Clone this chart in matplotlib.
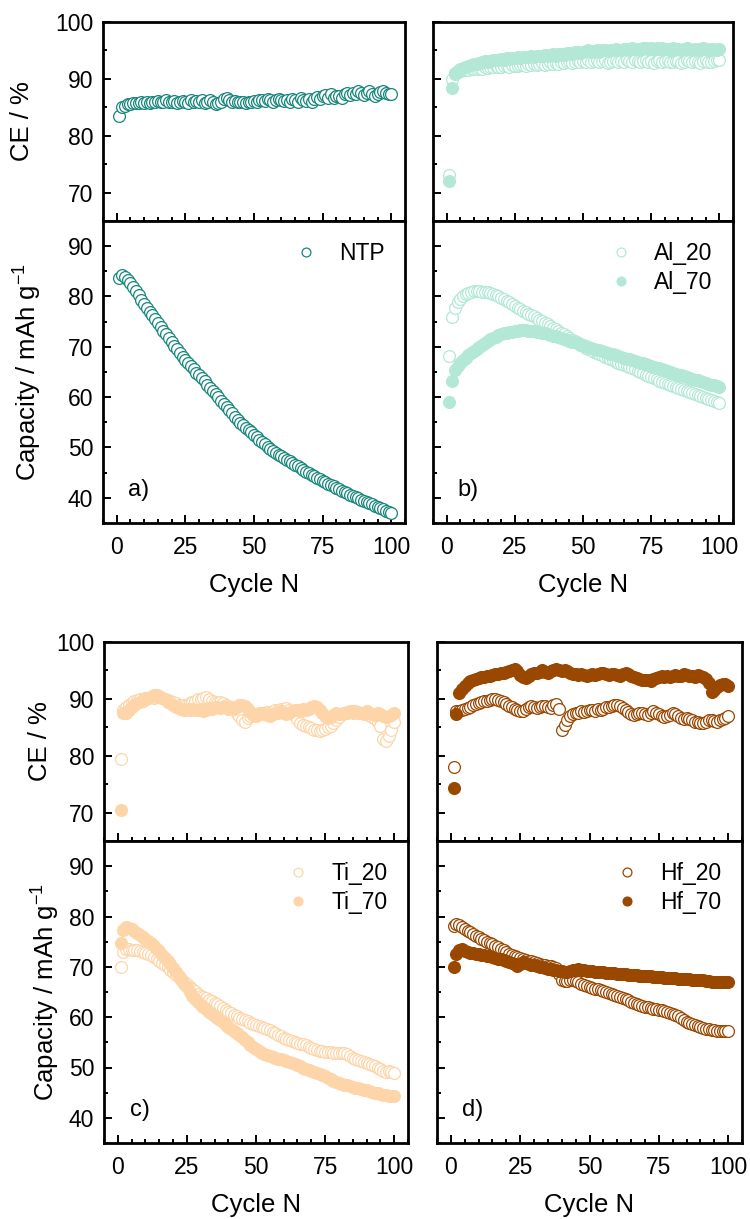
import numpy as np
import matplotlib.pyplot as plt
from matplotlib.ticker import MultipleLocator

plt.rcParams['font.family'] = ['Liberation Sans', 'DejaVu Sans']
plt.rcParams['mathtext.fontset'] = 'custom'
plt.rcParams['mathtext.rm'] = 'Liberation Sans'
plt.rcParams['mathtext.it'] = 'Liberation Sans:italic'

cycles = np.arange(1, 101)

# ---- a) NTP ----
ntp_ce = [
    83.5, 85.0, 85.3, 85.5, 85.6, 85.7, 85.8, 85.7, 85.9, 85.8,
    85.9, 85.8, 86.0, 85.9, 86.1, 85.9, 86.0, 86.2, 85.9, 86.0,
    86.1, 85.8, 86.0, 86.1, 85.9, 85.8, 86.2, 86.0, 86.1, 85.9,
    86.3, 85.8, 86.0, 86.2, 85.9, 85.5, 85.7, 86.0, 86.5, 86.6,
    86.2, 86.0, 86.1, 85.9, 85.9, 86.0, 85.8, 85.9, 86.0, 86.1,
    86.0, 86.2, 86.3, 86.1, 86.4, 86.2, 86.0, 86.3, 86.5, 86.2,
    86.1, 86.3, 86.0, 86.4, 86.2, 86.0, 86.6, 86.3, 86.1, 86.5,
    86.0, 86.4, 86.8, 86.5, 86.9, 87.1, 86.7, 87.3, 86.6, 86.9,
    87.0, 86.7, 87.3, 87.5, 87.1, 87.6, 87.4, 87.8, 87.5, 87.2,
    87.6, 87.9, 87.4, 87.0, 87.3, 87.7, 87.9, 87.5, 87.4, 87.3]
ntp_cap = [
    83.7, 84.2, 83.9, 83.3, 82.6, 81.8, 81.0, 80.2, 79.4, 78.6,
    77.8, 77.0, 76.3, 75.5, 74.8, 74.0, 73.2, 72.5, 71.7, 71.0,
    70.2, 69.5, 68.7, 68.0, 67.3, 66.7, 66.1, 65.5, 64.9, 64.4,
    63.8, 63.2, 62.5, 61.9, 61.2, 60.6, 60.0, 59.3, 58.7, 58.1,
    57.4, 56.8, 56.1, 55.5, 54.9, 54.4, 53.9, 53.4, 53.0, 52.5,
    52.0, 51.5, 51.0, 50.6, 50.1, 49.7, 49.4, 49.0, 48.6, 48.3,
    47.9, 47.6, 47.3, 46.9, 46.6, 46.3, 45.9, 45.6, 45.2, 44.9,
    44.6, 44.3, 44.0, 43.7, 43.4, 43.1, 42.8, 42.6, 42.3, 42.0,
    41.7, 41.4, 41.2, 40.9, 40.6, 40.4, 40.1, 39.9, 39.6, 39.4,
    39.1, 38.9, 38.7, 38.4, 38.2, 37.9, 37.7, 37.4, 37.2, 36.9]

# ---- b) Al ----
al20_ce = [
    73.1, 90.0, 90.9, 91.2, 91.4, 91.5, 91.6, 91.5, 91.7, 91.8,
    91.7, 91.9, 91.8, 92.0, 91.9, 92.1, 92.0, 92.2, 92.1, 92.0,
    92.3, 92.2, 92.1, 92.4, 92.3, 92.2, 92.5, 92.4, 92.3, 92.6,
    92.4, 92.7, 92.5, 92.6, 92.8, 92.5, 92.7, 92.9, 92.6, 92.8,
    92.7, 93.0, 92.8, 92.9, 93.1, 92.8, 93.0, 93.2, 92.9, 93.1,
    93.0, 93.3, 92.9, 93.2, 93.4, 93.0, 93.1, 93.3, 92.8, 93.0,
    93.2, 93.4, 93.0, 93.1, 92.9, 93.3, 93.2, 93.0, 93.4, 93.1,
    92.9, 93.2, 93.3, 93.0, 93.1, 92.8, 93.2, 93.4, 93.0, 93.1,
    93.3, 92.9, 93.0, 93.2, 93.1, 92.8, 93.0, 93.3, 93.1, 92.9,
    93.2, 93.0, 92.8, 93.1, 93.3, 93.0, 92.9, 93.1, 93.4, 93.3]
al70_ce = [
    72.1, 88.4, 91.0, 91.4, 91.7, 91.9, 92.1, 92.3, 92.4, 92.6,
    92.7, 92.8, 93.0, 93.1, 93.0, 93.2, 93.3, 93.4, 93.3, 93.5,
    93.4, 93.6, 93.5, 93.7, 93.6, 93.8, 93.7, 93.9, 93.8, 93.9,
    94.0, 93.9, 94.1, 94.0, 94.1, 94.2, 94.0, 94.2, 94.3, 94.1,
    94.3, 94.4, 94.2, 94.5, 94.6, 94.4, 94.7, 94.8, 94.6, 94.8,
    94.9, 95.1, 94.8, 94.9, 95.0, 94.8, 95.0, 95.1, 94.9, 95.1,
    95.0, 95.2, 95.1, 95.0, 95.2, 95.3, 95.1, 95.4, 95.2, 95.3,
    95.2, 95.4, 95.5, 95.3, 95.4, 95.2, 95.5, 95.3, 95.4, 95.2,
    95.3, 95.1, 95.4, 95.2, 95.3, 95.1, 95.2, 95.4, 95.3, 95.0,
    95.2, 95.1, 95.3, 95.4, 95.2, 95.1, 95.3, 95.2, 95.1, 95.2]
al20_cap = [
    68.1, 75.9, 77.8, 78.9, 79.6, 80.1, 80.5, 80.7, 80.9, 81.0,
    81.0, 81.0, 80.9, 80.9, 80.8, 80.6, 80.5, 80.3, 80.1, 79.8,
    79.5, 79.2, 78.9, 78.5, 78.2, 77.8, 77.5, 77.2, 76.9, 76.6,
    76.4, 76.1, 75.8, 75.4, 75.1, 74.8, 74.5, 74.1, 73.8, 73.5,
    73.2, 72.8, 72.5, 72.1, 71.8, 71.4, 71.1, 70.8, 70.4, 70.1,
    69.8, 69.5, 69.3, 69.0, 68.8, 68.5, 68.3, 68.0, 67.8, 67.5,
    67.3, 67.0, 66.8, 66.6, 66.3, 66.1, 65.9, 65.7, 65.5, 65.2,
    65.0, 64.8, 64.5, 64.3, 64.0, 63.8, 63.6, 63.3, 63.1, 62.9,
    62.7, 62.5, 62.3, 62.0, 61.8, 61.6, 61.4, 61.2, 61.0, 60.8,
    60.6, 60.4, 60.2, 60.0, 59.8, 59.6, 59.4, 59.2, 59.0, 58.8]
al70_cap = [
    59.1, 63.3, 65.3, 66.1, 66.8, 67.3, 67.8, 68.3, 68.7, 69.1,
    69.5, 69.9, 70.3, 70.7, 71.1, 71.5, 71.8, 72.0, 72.3, 72.5,
    72.7, 72.8, 72.9, 73.0, 73.1, 73.2, 73.3, 73.3, 73.3, 73.2,
    73.2, 73.1, 73.0, 72.9, 72.8, 72.7, 72.5, 72.4, 72.2, 72.1,
    71.9, 71.8, 71.6, 71.4, 71.2, 71.0, 70.9, 70.7, 70.5, 70.3,
    70.1, 69.9, 69.8, 69.6, 69.4, 69.3, 69.1, 68.9, 68.8, 68.6,
    68.5, 68.3, 68.1, 68.0, 67.8, 67.6, 67.5, 67.3, 67.1, 67.0,
    66.8, 66.7, 66.5, 66.3, 66.2, 66.0, 65.8, 65.7, 65.5, 65.3,
    65.2, 65.0, 64.9, 64.7, 64.5, 64.4, 64.2, 64.0, 63.9, 63.7,
    63.5, 63.4, 63.2, 63.0, 62.9, 62.7, 62.5, 62.4, 62.2, 62.0]

# ---- c) Ti ----
ti20_ce = [
    79.4, 88.0, 88.5, 89.0, 89.3, 89.6, 89.8, 89.9, 90.0, 90.1,
    90.2, 90.3, 90.2, 90.4, 90.3, 90.2, 90.0, 89.8, 89.6, 89.4,
    89.2, 89.0, 88.8, 88.9, 89.0, 89.2, 89.5, 89.7, 89.9, 90.0,
    90.2, 90.3, 90.0, 89.7, 89.5, 89.3, 89.4, 89.2, 89.0, 88.8,
    88.5, 88.2, 87.6, 86.9, 86.2, 85.9, 86.6, 87.0, 87.3, 87.2,
    87.5, 87.4, 87.6, 87.7, 87.6, 87.8, 88.0, 88.1, 88.3, 88.2,
    88.4, 88.0, 87.5, 87.0, 86.4, 85.8, 85.4, 85.2, 85.0, 84.8,
    84.6, 84.5, 84.4, 84.5, 84.7, 85.0, 85.3, 85.7, 86.2, 86.8,
    87.3, 87.6, 87.7, 87.8, 87.8, 87.7, 87.6, 87.5, 87.3, 87.6,
    87.2, 86.8, 86.4, 86.0, 85.3, 83.0, 82.6, 83.4, 84.5, 86.0]
ti70_ce = [
    70.4, 87.6, 87.5, 88.0, 88.5, 88.9, 89.2, 89.5, 89.7, 89.9,
    90.1, 90.3, 90.6, 90.7, 90.5, 90.2, 89.9, 89.5, 89.2, 88.9,
    88.6, 88.4, 88.2, 88.0, 88.2, 88.1, 88.3, 88.1, 88.0, 88.2,
    87.9, 88.1, 88.4, 88.3, 88.6, 88.5, 88.4, 88.6, 88.5, 88.3,
    88.4, 88.2, 88.6, 88.9, 89.0, 88.7, 88.3, 87.7, 87.2, 87.0,
    87.3, 87.6, 87.5, 87.2, 87.0, 87.3, 87.5, 87.6, 87.8, 87.5,
    87.3, 87.6, 87.9, 88.1, 88.0, 87.8, 88.2, 88.0, 88.3, 88.5,
    88.7, 88.5, 88.0, 87.5, 86.9, 86.6, 86.8, 87.2, 87.5, 87.3,
    87.4, 87.6, 87.5, 87.7, 87.6, 87.8, 87.7, 87.5, 87.6, 87.8,
    87.5, 87.4, 87.2, 87.5, 87.3, 87.0, 86.8, 86.9, 87.2, 87.6]
ti20_cap = [
    69.9, 73.0, 73.5, 73.5, 73.4, 73.3, 73.3, 73.2, 73.0, 72.8,
    72.5, 72.3, 71.9, 71.6, 71.2, 70.8, 70.3, 69.9, 69.4, 68.9,
    68.4, 68.0, 67.5, 67.0, 66.5, 66.0, 65.6, 65.1, 64.7, 64.3,
    64.0, 63.8, 63.5, 63.2, 62.9, 62.6, 62.3, 61.9, 61.5, 61.1,
    60.8, 60.5, 60.2, 59.9, 59.6, 59.4, 59.2, 58.9, 58.7, 58.5,
    58.3, 58.0, 57.8, 57.6, 57.4, 57.1, 56.8, 56.5, 56.2, 55.9,
    55.7, 55.5, 55.3, 55.1, 54.9, 54.7, 54.6, 54.4, 54.1, 53.9,
    53.7, 53.5, 53.3, 53.2, 53.1, 53.0, 53.0, 52.9, 52.9, 52.9,
    52.8, 52.9, 52.7, 52.3, 51.9, 51.6, 51.4, 51.2, 51.0, 50.8,
    50.6, 50.4, 50.2, 50.0, 49.7, 49.4, 49.1, 49.3, 49.2, 49.0]
ti70_cap = [
    74.8, 77.4, 77.9, 77.8, 77.5, 77.1, 76.8, 76.4, 76.0, 75.6,
    75.1, 74.7, 74.2, 73.6, 73.1, 72.4, 71.8, 71.1, 70.5, 69.7,
    69.0, 68.2, 67.4, 66.6, 65.9, 65.0, 64.3, 63.6, 63.0, 62.5,
    62.0, 61.6, 61.1, 60.7, 60.2, 59.8, 59.4, 59.0, 58.5, 58.1,
    57.6, 57.2, 56.8, 56.4, 56.0, 55.5, 55.0, 54.5, 54.0, 53.6,
    53.2, 52.9, 52.6, 52.4, 52.2, 52.0, 51.9, 51.7, 51.6, 51.4,
    51.2, 51.0, 50.8, 50.6, 50.4, 50.2, 50.0, 49.8, 49.6, 49.4,
    49.2, 49.0, 48.8, 48.6, 48.3, 48.0, 47.7, 47.4, 47.1, 46.9,
    46.7, 46.6, 46.5, 46.3, 46.2, 46.0, 45.9, 45.7, 45.6, 45.5,
    45.3, 45.2, 45.0, 44.9, 44.8, 44.6, 44.5, 44.4, 44.3, 44.3]

# ---- d) Hf ----
hf20_ce = [
    78.0, 87.8, 87.9, 88.1, 88.2, 88.4, 88.6, 88.9, 89.1, 89.3,
    89.5, 89.6, 89.7, 89.8, 89.9, 89.9, 89.8, 89.6, 89.4, 89.1,
    88.8, 88.5, 88.2, 88.0, 87.8, 87.9, 88.2, 88.5, 88.7, 88.6,
    88.4, 88.6, 88.8, 88.7, 88.5, 88.4, 88.9, 89.1, 88.3, 84.6,
    85.4, 86.3, 86.9, 87.3, 87.5, 87.6, 87.8, 87.7, 87.9, 88.0,
    88.1, 87.9, 88.2, 88.1, 88.3, 88.5, 88.6, 88.8, 89.0, 88.9,
    88.7, 88.4, 88.0, 87.7, 87.4, 87.2, 87.4, 87.6, 87.5, 87.3,
    87.1, 87.5, 87.8, 87.6, 87.3, 87.0, 86.8, 86.9, 87.2, 87.5,
    87.4, 87.0, 86.7, 86.5, 86.6, 86.4, 86.2, 86.0, 85.9, 85.8,
    85.8, 86.0, 86.2, 86.3, 86.1, 86.0, 86.3, 86.5, 86.7, 86.9]
hf70_ce = [
    74.3, 87.4, 91.1, 91.8, 92.3, 92.8, 93.1, 93.3, 93.5, 93.6,
    93.8, 93.9, 94.0, 94.1, 94.2, 94.3, 94.4, 94.5, 94.6, 94.8,
    94.9, 95.1, 95.3, 94.9, 94.2, 93.8, 93.7, 94.0, 94.3, 94.5,
    94.6, 94.8, 95.0, 94.8, 94.6, 94.9, 95.1, 95.2, 95.0, 94.9,
    95.1, 94.9, 94.6, 94.4, 94.3, 94.2, 94.3, 94.2, 94.1, 94.2,
    94.3, 94.2, 94.4, 94.5, 94.6, 94.4, 94.2, 94.3, 94.4, 94.2,
    94.1, 94.3, 94.5, 94.4, 94.1, 93.9, 93.7, 93.5, 93.4, 93.3,
    93.4, 93.2, 93.5, 93.7, 93.8, 94.0, 93.9, 94.1, 93.9, 94.0,
    94.2, 94.0, 94.1, 94.3, 94.2, 94.0, 94.1, 93.9, 94.2, 94.0,
    93.8, 93.5, 92.8, 91.2, 91.6, 92.1, 92.4, 92.7, 92.6, 92.3]
hf20_cap = [
    78.2, 78.5, 78.3, 77.9, 77.6, 77.2, 76.9, 76.6, 76.2, 75.9,
    75.6, 75.3, 75.0, 74.7, 74.5, 74.2, 73.9, 73.6, 73.3, 72.9,
    72.6, 72.4, 72.2, 72.0, 71.8, 71.6, 71.4, 71.2, 71.1, 70.9,
    70.7, 70.6, 70.4, 70.3, 70.2, 70.1, 70.0, 69.8, 68.6, 67.3,
    67.1, 67.2, 67.4, 67.3, 67.2, 67.0, 66.6, 66.3, 66.1, 65.9,
    65.8, 65.6, 65.5, 65.3, 65.2, 65.0, 64.9, 64.7, 64.5, 64.3,
    64.1, 63.8, 63.6, 63.4, 63.1, 62.9, 62.7, 62.5, 62.3, 62.1,
    62.0, 61.8, 61.7, 61.6, 61.5, 61.4, 61.2, 61.0, 60.8, 60.6,
    60.4, 60.2, 59.9, 59.5, 59.1, 58.8, 58.6, 58.4, 58.3, 58.1,
    57.9, 57.7, 57.6, 57.5, 57.4, 57.3, 57.3, 57.2, 57.2, 57.2]
hf70_cap = [
    69.9, 72.5, 73.3, 73.5, 73.2, 72.9, 72.8, 72.7, 72.6, 72.5,
    72.4, 72.3, 72.2, 72.1, 71.9, 71.8, 71.6, 71.5, 71.3, 71.1,
    71.0, 70.8, 70.5, 70.2, 70.6, 70.9, 70.8, 70.6, 70.4, 70.3,
    70.1, 70.0, 69.9, 69.8, 69.6, 69.5, 69.4, 69.3, 69.2, 69.1,
    69.0, 69.0, 69.1, 69.3, 69.4, 69.5, 69.4, 69.3, 69.2, 69.2,
    69.1, 69.0, 69.0, 68.9, 68.9, 68.8, 68.8, 68.7, 68.7, 68.6,
    68.6, 68.5, 68.5, 68.4, 68.4, 68.3, 68.3, 68.2, 68.2, 68.2,
    68.1, 68.1, 68.0, 68.0, 67.9, 67.9, 67.8, 67.8, 67.8, 67.7,
    67.7, 67.6, 67.6, 67.6, 67.5, 67.5, 67.4, 67.4, 67.3, 67.4,
    67.3, 67.2, 67.1, 67.0, 67.0, 67.0, 66.9, 66.9, 67.0, 66.9]

C_NTP = '#17877c'
C_AL = '#b3e8d7'
C_TI = '#fed5a8'
C_HF = '#9a4700'

panels = [
    dict(box=(103, 405, 22, 221, 523), tag='a)', ylabels=True,
         series=[('NTP', ntp_ce, ntp_cap, C_NTP, False)]),
    dict(box=(433, 733, 22, 221, 523), tag='b)', ylabels=False,
         series=[('Al_20', al20_ce, al20_cap, C_AL, False),
                 ('Al_70', al70_ce, al70_cap, C_AL, True)]),
    dict(box=(104, 408, 642, 841, 1143), tag='c)', ylabels=True,
         series=[('Ti_20', ti20_ce, ti20_cap, C_TI, False),
                 ('Ti_70', ti70_ce, ti70_cap, C_TI, True)]),
    dict(box=(437, 742, 642, 841, 1143), tag='d)', ylabels=False,
         series=[('Hf_20', hf20_ce, hf20_cap, C_HF, False),
                 ('Hf_70', hf70_ce, hf70_cap, C_HF, True)]),
]

W, H = 750, 1219
fig = plt.figure(figsize=(W / 100, H / 100), dpi=100)


def add_ax(left, right, top, bottom):
    return fig.add_axes([left / W, 1 - bottom / H, (right - left) / W, (bottom - top) / H])


def style(ax, ylo, yhi, show_x, show_y):
    ax.set_xlim(-5, 105)
    ax.set_ylim(ylo, yhi)
    ax.xaxis.set_major_locator(MultipleLocator(25))
    ax.xaxis.set_minor_locator(MultipleLocator(5))
    ax.yaxis.set_major_locator(MultipleLocator(10))
    ax.yaxis.set_minor_locator(MultipleLocator(5))
    ax.tick_params(which='both', direction='in', top=False, right=False,
                   width=1.4, labelsize=16.5, colors='black')
    ax.tick_params(which='major', length=5.5)
    ax.tick_params(which='minor', length=3)
    ax.tick_params(axis='x', pad=9.5, labelbottom=show_x)
    ax.tick_params(axis='y', pad=7, labelleft=show_y)
    for sp in ax.spines.values():
        sp.set_linewidth(2.0)


for p in panels:
    left, right, top, mid, bottom = p['box']
    ax_ce = add_ax(left, right, top, mid)
    ax_cap = add_ax(left, right, mid, bottom)
    style(ax_ce, 65, 100, False, p['ylabels'])
    style(ax_cap, 35, 95, True, p['ylabels'])

    for name, ce, cap, color, filled in p['series']:
        kw = dict(ls='none', marker='o', ms=8.5, mec=color, mew=0.9,
                  mfc=color if filled else 'white')
        ax_ce.plot(cycles, ce, **kw)
        ax_cap.plot(cycles, cap, label=name, **kw)

    ax_cap.legend(loc='upper right', frameon=False, fontsize=16.5,
                  handlelength=1.0, handletextpad=0.95, markerscale=0.75,
                  labelspacing=0.3, borderaxespad=0.5)
    ax_cap.text(0.118, 0.108, p['tag'], transform=ax_cap.transAxes,
                ha='center', va='center', fontsize=17)

    xc = (left + right) / 2
    fig.text(xc / W, 1 - (bottom + 62) / H, 'Cycle N', ha='center', va='center',
             fontsize=18.5)
    if p['ylabels']:
        shift = 0 if top < 300 else 18
        fig.text((22 + shift) / W, 1 - ((top + mid) / 2) / H, 'CE / %',
                 rotation=90, ha='center', va='center', fontsize=18.5)
        fig.text((28 + shift) / W, 1 - ((mid + bottom) / 2) / H,
                 'Capacity / mAh g$^{-1}$', rotation=90, ha='center',
                 va='center', fontsize=18.5)

fig.savefig('out.png', dpi=100)
